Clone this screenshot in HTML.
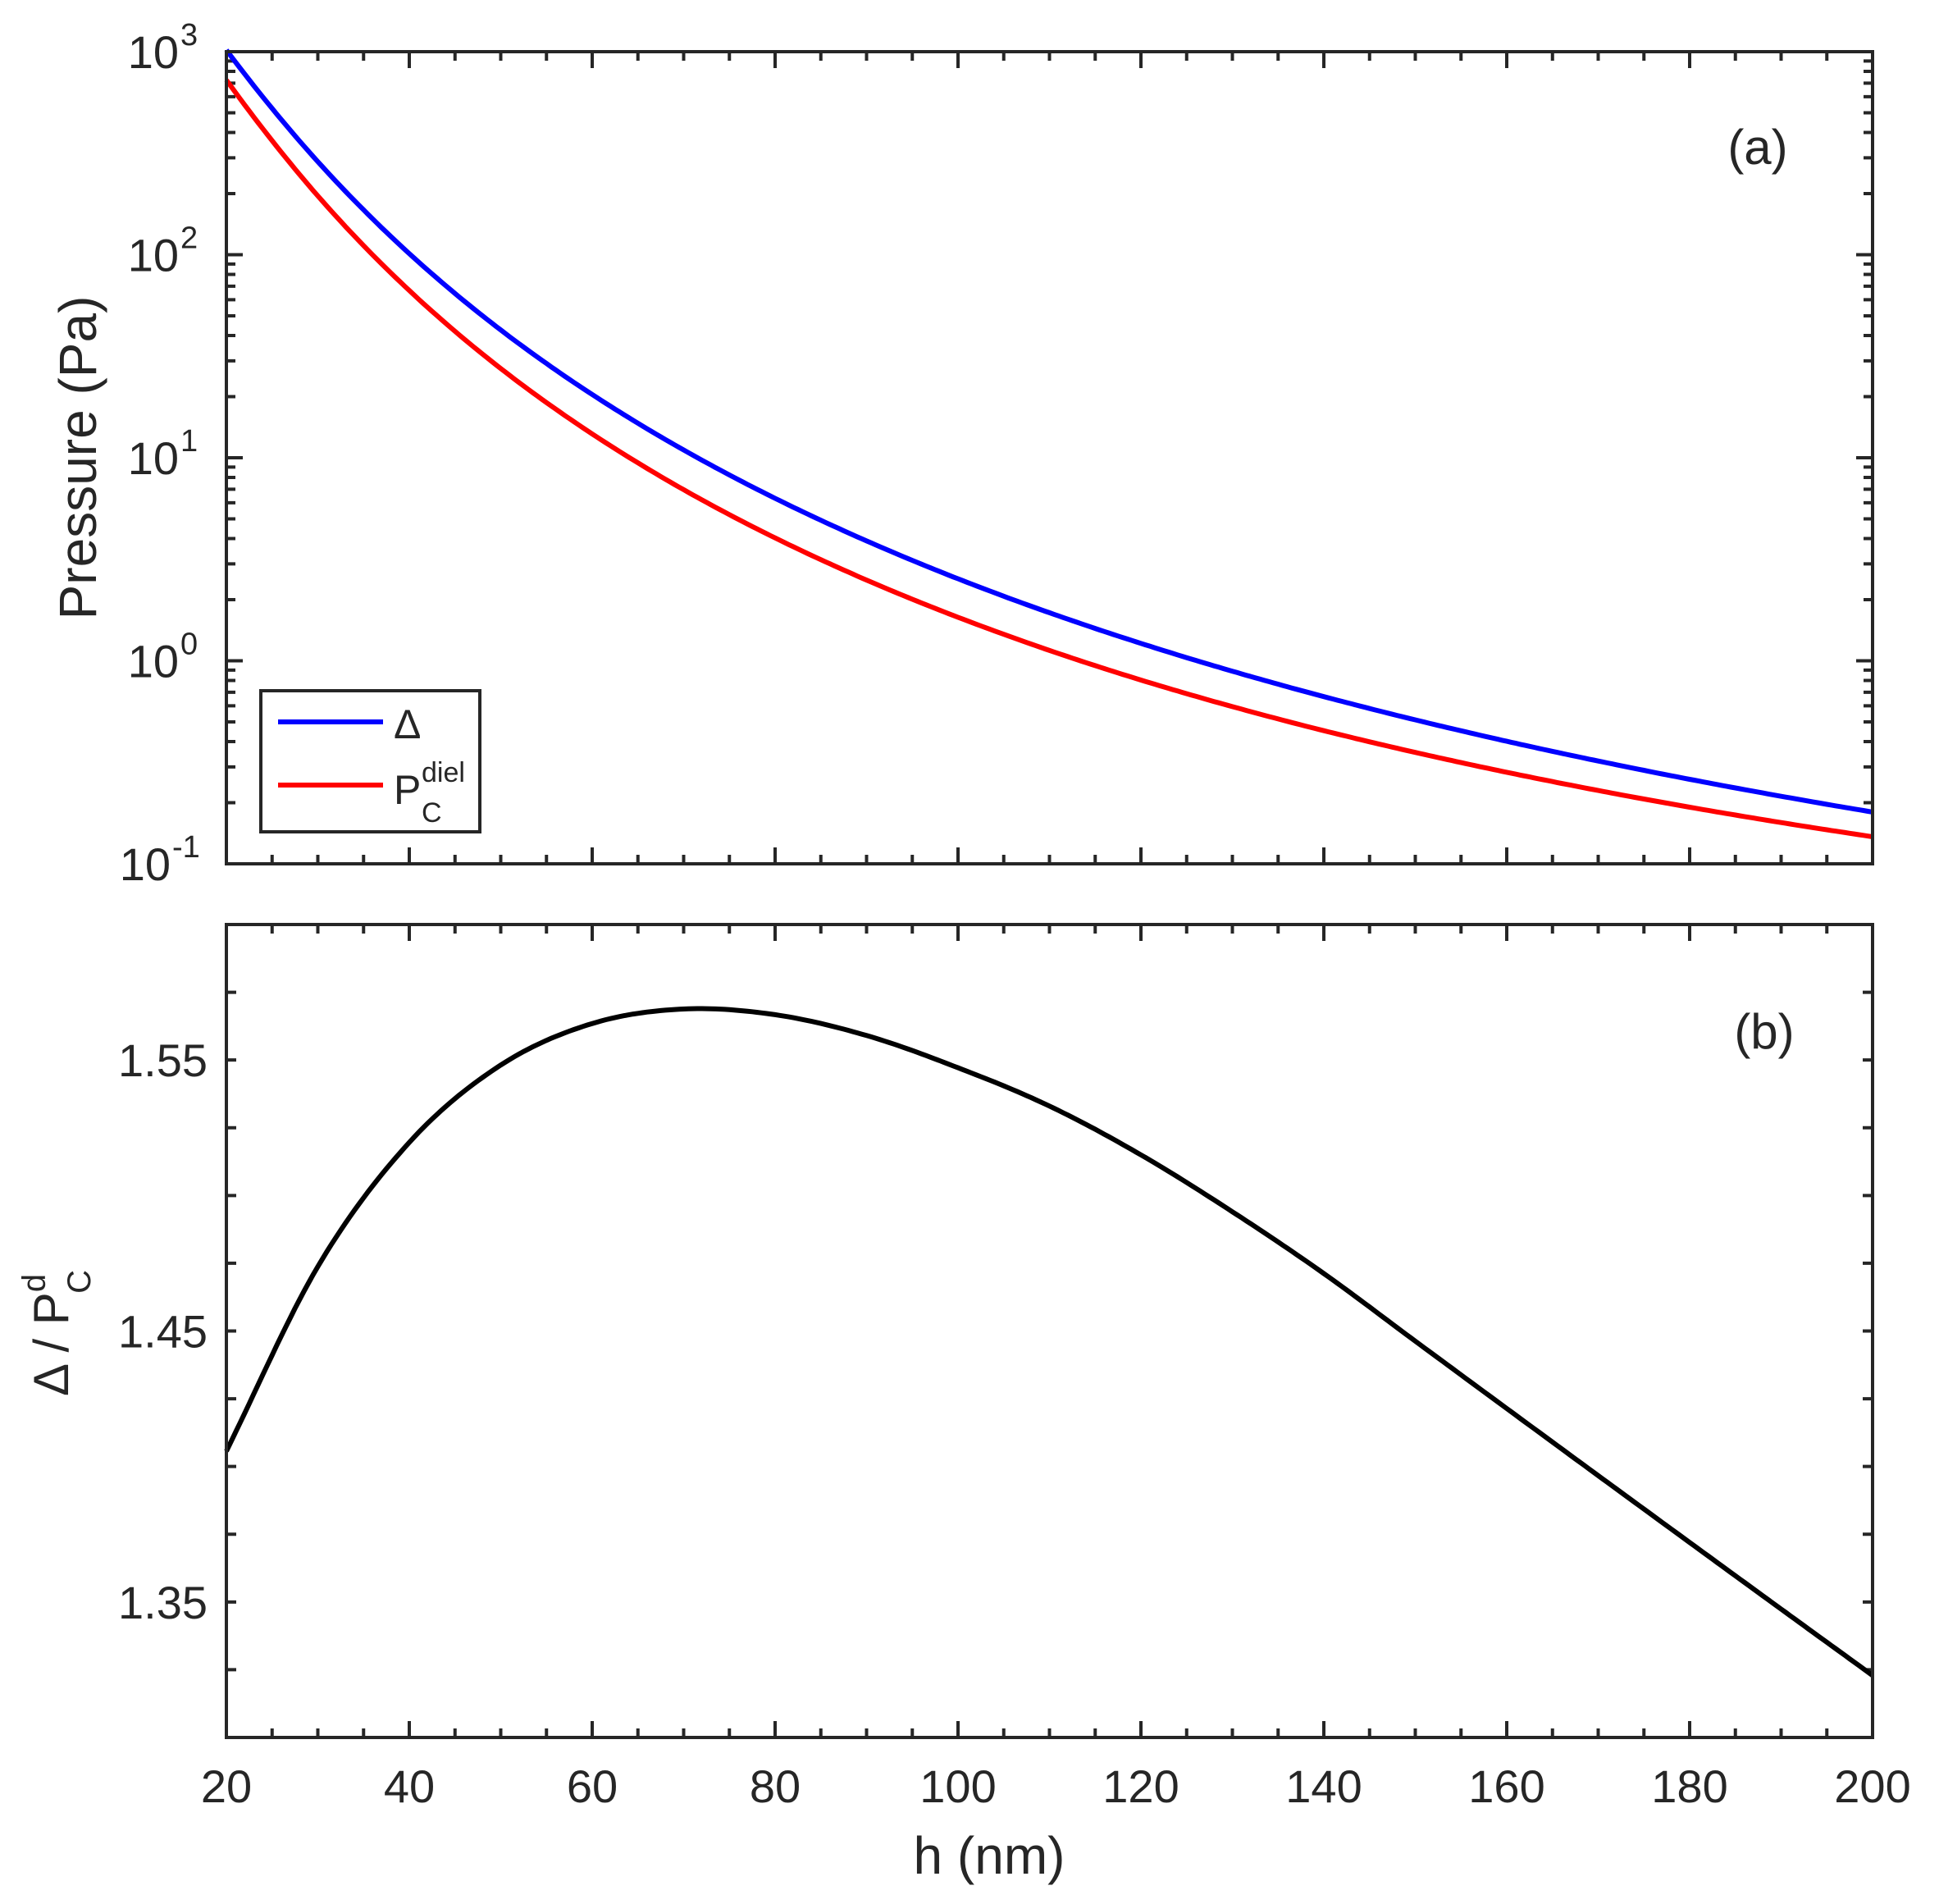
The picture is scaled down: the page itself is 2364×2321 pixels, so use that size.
<!DOCTYPE html>
<html><head><meta charset="utf-8"><style>
html,body{margin:0;padding:0;background:#fff}
svg{display:block}
text{font-family:"Liberation Sans",Arial,sans-serif;fill:#262626}
</style></head><body>
<svg id="s" width="2364" height="2321" viewBox="0 0 2364 2321" xmlns="http://www.w3.org/2000/svg">
<rect width="2364" height="2321" fill="#fff"/>
<g id="ticks" stroke="#262626" stroke-width="4" fill="none"></g>
<path id="blue" fill="none" stroke="#0000ff" stroke-width="6" stroke-linejoin="round"/>
<path id="red" fill="none" stroke="#ff0000" stroke-width="6" stroke-linejoin="round"/>
<path id="blk" fill="none" stroke="#000" stroke-width="6" stroke-linejoin="round"/>
<rect x="276" y="63" width="2007" height="990" fill="none" stroke="#262626" stroke-width="4"/>
<rect x="276" y="1127" width="2007" height="991" fill="none" stroke="#262626" stroke-width="4"/>
<rect x="318" y="842" width="267" height="172" fill="#fff" stroke="#262626" stroke-width="4"/>
<line x1="339" y1="880" x2="467" y2="880" stroke="#0000ff" stroke-width="6"/>
<line x1="339" y1="957" x2="467" y2="957" stroke="#ff0000" stroke-width="6"/>
<text x="480" y="900" font-size="50">Δ</text>
<text x="480" y="980" font-size="50">P</text>
<text x="514" y="953" font-size="34">diel</text>
<text x="514" y="1002" font-size="34">C</text>
<text x="2143" y="200" font-size="60" text-anchor="middle">(a)</text>
<text x="2151" y="1278" font-size="60" text-anchor="middle">(b)</text>
<g id="labels" font-size="56"></g>
<text x="1206" y="2284" font-size="64" text-anchor="middle">h (nm)</text>
<text transform="translate(117,558) rotate(-90)" font-size="64" text-anchor="middle">Pressure (Pa)</text>
<text transform="translate(83,1625) rotate(-90)" font-size="60" text-anchor="middle">Δ / P<tspan font-size="40" dy="-28">d</tspan><tspan font-size="40" dx="-24" dy="55">C</tspan></text>
</svg>
<script>
var NS="http://www.w3.org/2000/svg";
function X(h){return 276+(h-20)/180*2007;}
function YA(L){return 63+(3-L)*247.5;}
function YB(v){return 1127+(1.60-v)/0.30*991;}
var tk=document.getElementById('ticks'),lb=document.getElementById('labels');
var d="";
for(var h=20;h<=200;h+=5){var x=X(h),L=(h%20==0)?20:11;
 d+="M"+x+" 63v"+L+"M"+x+" 1053v-"+L+"M"+x+" 1127v"+L+"M"+x+" 2118v-"+L;
 if(h%20==0){var t=document.createElementNS(NS,'text');t.setAttribute('x',x);t.setAttribute('y',2197);t.setAttribute('text-anchor','middle');t.textContent=h;lb.appendChild(t);}
}
for(var e=-1;e<=3;e++){for(var m=1;m<10;m++){var L=e+Math.log10(m);if(L>3.0001)break;var y=YA(L),len=(m==1)?20:11;
 d+="M276 "+y+"h"+len+"M2283 "+y+"h-"+len;}
 var t=document.createElementNS(NS,'text');t.setAttribute('x',e<0?208:218);t.setAttribute('y',YA(e)+20);t.setAttribute('text-anchor','end');t.textContent="10";lb.appendChild(t);
 var s=document.createElementNS(NS,'text');s.setAttribute('x',e<0?210:220);s.setAttribute('y',YA(e)-8);s.setAttribute('font-size','38');s.textContent=(e<0?"-1":e);lb.appendChild(s);
}
for(var i=0;i<=12;i++){var v=1.30+i*0.025,y=YB(v);d+="M276 "+y+"h12M2283 "+y+"h-12";}
[1.35,1.45,1.55].forEach(function(v){var t=document.createElementNS(NS,'text');t.setAttribute('x',253);t.setAttribute('y',YB(v)+20);t.setAttribute('text-anchor','end');t.textContent=v.toFixed(2);lb.appendChild(t);});
var p=document.createElementNS(NS,'path');p.setAttribute('d',d);tk.appendChild(p);

function fit(xs,ys,deg){var n=deg+1,A=[],b=[];
 for(var i=0;i<n;i++){A.push([]);for(var j=0;j<n;j++){var s=0;for(var k=0;k<xs.length;k++)s+=Math.pow(xs[k],i+j);A[i].push(s);}
  var s2=0;for(var k=0;k<xs.length;k++)s2+=ys[k]*Math.pow(xs[k],i);b.push(s2);}
 for(var i=0;i<n;i++){var mx=i;for(var r=i+1;r<n;r++)if(Math.abs(A[r][i])>Math.abs(A[mx][i]))mx=r;
  var tmp=A[i];A[i]=A[mx];A[mx]=tmp;var tb=b[i];b[i]=b[mx];b[mx]=tb;
  for(var r=0;r<n;r++){if(r==i)continue;var f=A[r][i]/A[i][i];for(var c=i;c<n;c++)A[r][c]-=f*A[i][c];b[r]-=f*b[i];}}
 var co=[];for(var i=0;i<n;i++)co.push(b[i]/A[i][i]);
 return function(x){var s=0;for(var i=0;i<n;i++)s+=co[i]*Math.pow(x,i);return s;};}
var H=[20,30,39.8,50.4,60.3,70.2,80,99.9,119.7,139.5,160,180.4,200];
var B=[2.965,2.562,2.030,1.561,1.264,0.993,0.790,0.425,0.128,-0.135,-0.380,-0.590,-0.785];
var U=H.map(function(h){return Math.log10(h)-1.301;});
var fb=fit(U,B,3);
var RH=[20,30,39.8,50.4,60.3,72,80,90,99.9,119.7,139.5,160,180.4,200];
var RV=[1.4049,1.4744,1.521,1.5475,1.5623,1.5686,1.5676,1.5591,1.5475,1.5157,1.4722,1.4214,1.3706,1.3229];
var Z=RH.map(function(h){return (h-20)/180;});
var fr0=fit(Z,RV,5);
function q(h){var s=h-160;return 1.4214-0.002481*s+4.58e-7*s*s;}
var S=[];
for(var h=20;h<=200;h+=10){var v;
 if(h<=100)v=fr0((h-20)/180);else if(h==110)v=1.5330;else if(h==120)v=1.5150;else if(h==130)v=1.4940;else v=q(h);S.push(v);}
function fr(h){var n=S.length,u=(h-20)/10,i=Math.min(Math.floor(u),n-2),t=u-i;
 var y1=S[i],y2=S[i+1],y0=(i>0)?S[i-1]:2*y1-y2,y3=(i+2<n)?S[i+2]:2*y2-y1;
 var t2=t*t,t3=t2*t;return 0.5*((2*y1)+(-y0+y2)*t+(2*y0-5*y1+4*y2-y3)*t2+(-y0+3*y1-3*y2+y3)*t3);}
var bd="",rd="",kd="";
for(var h=20;h<=200.001;h+=0.5){var x=X(h).toFixed(1),L=fb(Math.log10(h)-1.301),r=fr(Math.min(h,200));
 var c=(h==20)?"M":"L";
 bd+=c+x+" "+YA(L).toFixed(1);rd+=c+x+" "+YA(L-Math.log10(r)).toFixed(1);kd+=c+x+" "+YB(r).toFixed(1);}
document.getElementById('blue').setAttribute('d',bd);
document.getElementById('red').setAttribute('d',rd);
document.getElementById('blk').setAttribute('d',kd);
</script>
</body></html>
